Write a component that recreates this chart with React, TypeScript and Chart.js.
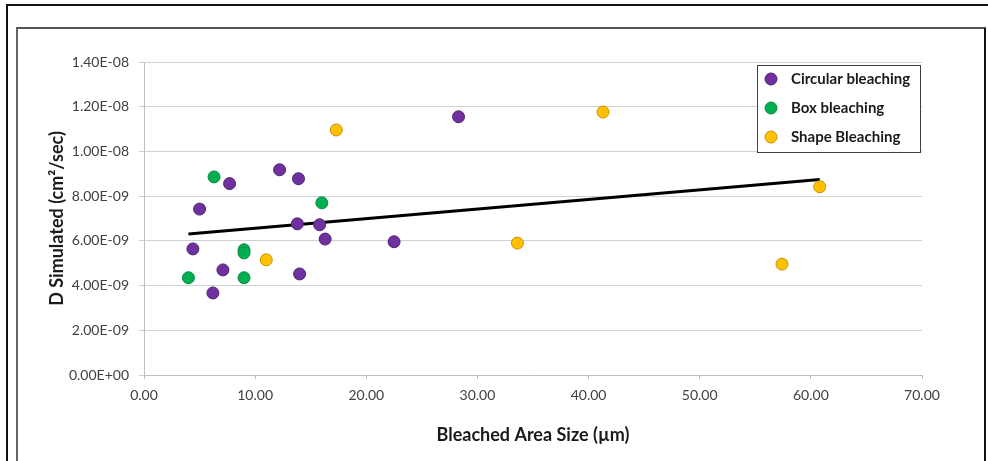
import React, { useEffect, useRef } from "react";
import { Chart, registerables } from "chart.js";

Chart.register(...registerables);

// Circular bleaching
const circularX = [4.4, 5.0, 6.2, 7.1, 7.7, 12.2, 13.9, 13.8, 14.0, 15.8, 16.3, 22.5, 28.3];
const circularY = [5.64e-9, 7.42e-9, 3.67e-9, 4.70e-9, 8.56e-9, 9.18e-9, 8.78e-9, 6.76e-9, 4.52e-9, 6.72e-9, 6.08e-9, 5.96e-9, 1.155e-8];
// Box bleaching
const boxX = [4.0, 6.3, 9.0, 9.0, 9.0, 16.0];
const boxY = [4.35e-9, 8.86e-9, 5.60e-9, 5.46e-9, 4.35e-9, 7.70e-9];
// Shape Bleaching
const shapeX = [11.0, 17.3, 33.6, 41.3, 57.4, 60.8];
const shapeY = [5.15e-9, 1.096e-8, 5.90e-9, 1.176e-8, 4.96e-9, 8.42e-9];
// Linear trendline (endpoints)
const trendX = [4.0, 60.8];
const trendY = [6.31e-9, 8.74e-9];

const seriesNames = ["Circular bleaching", "Box bleaching", "Shape Bleaching"];
const xTicks = [0, 10, 20, 30, 40, 50, 60, 70];

const FONT = "Lato, 'Open Sans', sans-serif";

const toPoints = (xs: number[], ys: number[]) => xs.map((x, i) => ({ x, y: ys[i] }));

const fills = ["#7030A0", "#00B050", "#FFC000"];
const borders = ["#4a2470", "#0a8a40", "#c98f00"];

const legendPlugin = {
  id: "insideLegend",
  afterDatasetsDraw(chart: any) {
    const ctx = chart.ctx;
    const area = chart.chartArea;
    const w = 163;
    const h = 87;
    const x0 = area.right - 2 - w;
    const y0 = area.top + 3;
    ctx.save();
    ctx.fillStyle = "#ffffff";
    ctx.fillRect(x0, y0, w, h);
    ctx.strokeStyle = "#404040";
    ctx.lineWidth = 1;
    ctx.strokeRect(x0 + 0.5, y0 + 0.5, w, h);
    ctx.font = `bold 15px ${FONT}`;
    ctx.textBaseline = "middle";
    ctx.textAlign = "left";
    seriesNames.forEach((name, i) => {
      const cy = y0 + 14 + i * 29;
      ctx.beginPath();
      ctx.arc(x0 + 14, cy, 6, 0, Math.PI * 2);
      ctx.fillStyle = fills[i];
      ctx.fill();
      ctx.strokeStyle = borders[i];
      ctx.lineWidth = 1;
      ctx.stroke();
      ctx.fillStyle = "#1a1a1a";
      ctx.fillText(name, x0 + 34, cy);
    });
    ctx.restore();
  },
};

export default function App() {
  const ref = useRef<HTMLCanvasElement>(null);

  useEffect(() => {
    if (!ref.current) return;
    const pointDs = (i: number, xs: number[], ys: number[]) => ({
      type: "scatter" as const,
      label: seriesNames[i],
      data: toPoints(xs, ys),
      backgroundColor: fills[i],
      borderColor: borders[i],
      borderWidth: 1,
      pointRadius: 6,
      pointHoverRadius: 6,
    });
    const chart = new Chart(ref.current, {
      type: "scatter",
      data: {
        datasets: [
          pointDs(0, circularX, circularY),
          pointDs(1, boxX, boxY),
          pointDs(2, shapeX, shapeY),
          {
            type: "line" as const,
            label: "Trend",
            data: toPoints(trendX, trendY),
            borderColor: "#000000",
            borderWidth: 3,
            pointRadius: 0,
            showLine: true,
            fill: false,
          } as any,
        ],
      },
      options: {
        animation: false,
        responsive: false,
        maintainAspectRatio: false,
        layout: { padding: { left: 44, top: 62, right: 66, bottom: 0 } },
        plugins: {
          legend: { display: false },
          tooltip: { enabled: false },
        },
        scales: {
          x: {
            type: "linear",
            min: 0,
            max: 70,
            afterFit: (s: any) => {
              s.height = 86;
            },
            afterBuildTicks: (s: any) => {
              s.ticks = xTicks.map((v) => ({ value: v }));
            },
            grid: { display: true, drawOnChartArea: false, drawTicks: true, tickLength: 4, color: "#bfbfbf" },
            border: { display: true, color: "#bfbfbf", width: 1 },
            ticks: {
              padding: 8,
              color: "#404040",
              font: { family: FONT, size: 14 },
              maxRotation: 0,
              callback: (v: any) => Number(v).toFixed(2),
            },
            title: {
              display: true,
              text: "Bleached Area Size (µm)",
              color: "#1a1a1a",
              font: { family: FONT, size: 18, weight: "bold" },
              padding: { top: 0, bottom: 15 },
            },
          },
          y: {
            type: "linear",
            min: 0,
            max: 1.4e-8,
            afterFit: (s: any) => {
              s.width = 100;
            },
            ticks: {
              stepSize: 2e-9,
              padding: 10,
              color: "#404040",
              font: { family: FONT, size: 14 },
              callback: (v: any) => {
                const n = Number(v);
                if (Math.abs(n) < 1e-15) return "0.00E+00";
                const [m, e] = n.toExponential(2).split("e");
                const ex = parseInt(e, 10);
                const sign = ex < 0 ? "-" : "+";
                const abs = Math.abs(ex).toString().padStart(2, "0");
                return `${m}E${sign}${abs}`;
              },
            },
            grid: { color: "#d0d0d0", lineWidth: 1, tickLength: 5, drawTicks: true },
            border: { display: true, color: "#bfbfbf", width: 1 },
            title: {
              display: true,
              text: "D Simulated (cm²/sec)",
              color: "#1a1a1a",
              font: { family: FONT, size: 18, weight: "bold" },
              padding: { top: 2, bottom: 0 },
            },
          },
        },
      },
      plugins: [legendPlugin],
    });
    return () => chart.destroy();
  }, []);

  return (
    <div
      style={{
        position: "absolute",
        left: 0,
        top: 0,
        width: 988,
        height: 461,
        overflow: "hidden",
        background: "#ffffff",
      }}
    >
      <div
        style={{
          position: "absolute",
          left: 6,
          top: 4,
          width: 1000,
          height: 500,
          border: "2px solid #111",
        }}
      />
      <div
        style={{
          position: "absolute",
          left: 16,
          top: 27,
          width: 966,
          height: 500,
          borderTop: "2px solid #555",
          borderLeft: "2px solid #666",
          borderRight: "2px solid #111",
          background: "#ffffff",
        }}
      />
      <canvas
        ref={ref}
        width={988}
        height={461}
        style={{ position: "absolute", left: 0, top: 0, width: 988, height: 461 }}
      />
    </div>
  );
}
